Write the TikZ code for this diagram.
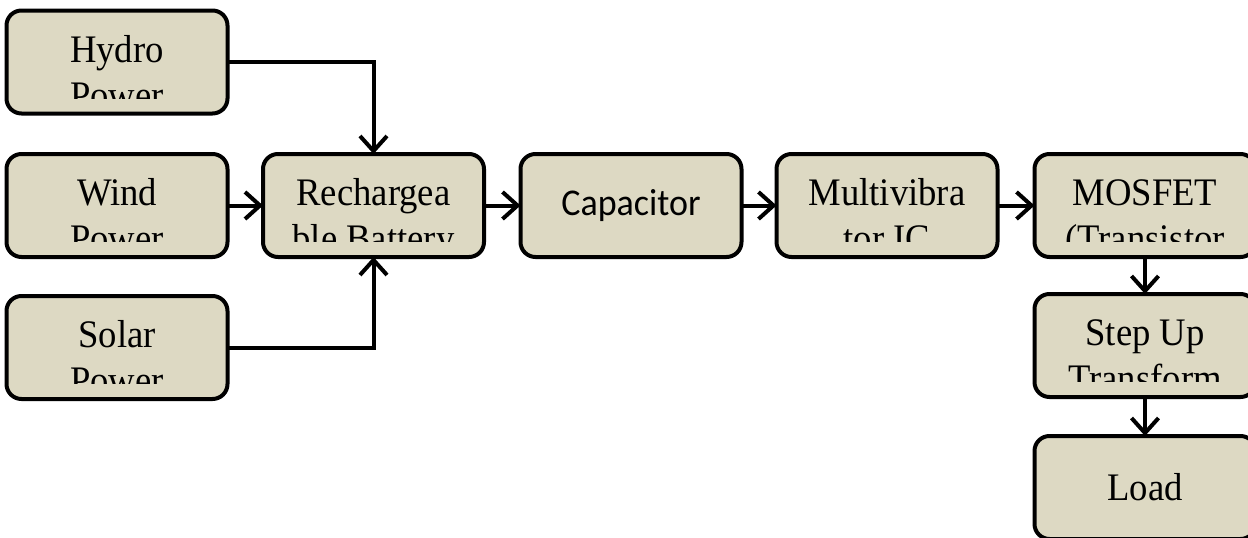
\documentclass[tikz,border=0pt]{standalone}
\usepackage{fontspec}
\setmainfont{Liberation Serif}
\newfontfamily\carlitofont{Carlito}
\usetikzlibrary{arrows.meta}
\definecolor{boxfill}{HTML}{DDD9C3}
\tikzset{
  blk/.style={draw=black, fill=boxfill, line width=4pt, rounded corners=15pt,
    minimum width=221pt, minimum height=103pt, inner sep=0pt, outer sep=0pt},
  txt/.style={inner sep=0pt, outer sep=0pt, font=\fontsize{39}{46}\selectfont},
  arr/.style={line width=4pt, -{Straight Barb[length=15pt,width=27pt,line width=4pt]}}
}
\newcommand\sq[1]{\scalebox{0.94}[1]{#1}}
\newcommand\twoline[5]{%
  \node[blk] (#1) at (#2,#3) {};
  \begin{scope}
    \clip (#2-108,#3-50) rectangle (#2+108,#3+36);
    \node[txt, anchor=base] (#1a) at (#2,#3) {\sq{#4}};
    \node[txt, anchor=base] (#1b) at (#2,#3+46) {\sq{#5}};
  \end{scope}}
\begin{document}
\begin{tikzpicture}[x=1pt,y=-1pt]
\useasboundingbox (0,0) rectangle (1248,538);
\clip (0,0) rectangle (1248,538);
\twoline{hydro}{117}{62}{Hydro}{Power}
\twoline{wind}{117}{205.5}{Wind}{Power}
\twoline{solar}{117}{347.5}{Solar}{Power}
\twoline{bat}{373.5}{205.5}{Rechargea}{ble Battery}
\node[blk] (cap) at (631,205.5) {};
\node[txt, font=\carlitofont\fontsize{36}{44}\selectfont] (capt) at (cap.center) {\scalebox{1}[1.05]{Capacitor}};
\twoline{multi}{887}{205.5}{Multivibra}{tor IC}
\twoline{mos}{1145}{205.5}{MOSFET}{(Transistor}
\twoline{step}{1145}{345.5}{Step Up}{Transform}
\node[blk] (load) at (1145,487.5) {};
\node[txt] (loadt) at (load.center) {\sq{Load}};
\draw[arr] (hydro.east) -| (bat.north);
\draw[arr] (solar.east) -| (bat.south);
\draw[arr] (wind.east) -- (bat.west);
\draw[arr] (bat.east) -- (cap.west);
\draw[arr] (cap.east) -- (multi.west);
\draw[arr] (multi.east) -- (mos.west);
\draw[arr] (mos.south) -- (step.north);
\draw[arr] (step.south) -- (load.north);
\end{tikzpicture}
\end{document}
